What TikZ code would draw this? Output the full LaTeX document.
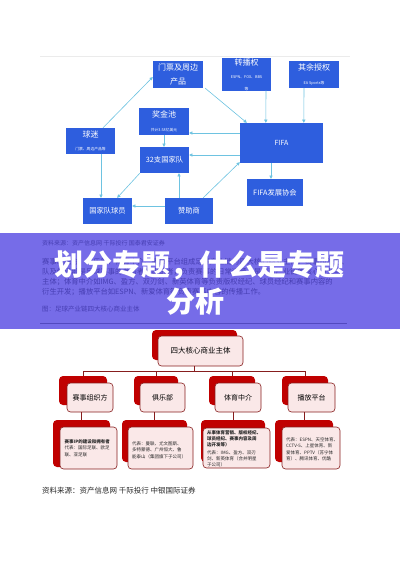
\documentclass[tikz,border=0pt]{standalone}
\usepackage{fontspec}
\setmainfont{Noto Sans CJK SC}
\usetikzlibrary{arrows.meta,calc}
\definecolor{bluebox}{RGB}{46,94,222}
\definecolor{arrowc}{RGB}{110,195,225}
\definecolor{bandc}{RGB}{118,108,232}
\definecolor{bandtxt}{RGB}{58,50,165}
\definecolor{redshadow}{RGB}{192,0,0}
\definecolor{redborder}{RGB}{135,30,30}
\definecolor{pinkfill}{RGB}{250,232,232}
\definecolor{captxt}{RGB}{40,40,40}
\newcommand{\fsz}[1]{\fontsize{#1}{#1}\selectfont}
\begin{document}
\begin{tikzpicture}[x=1pt,y=-1pt,
  bbox/.style={fill=bluebox, text=white, inner sep=0pt, align=center},
  arr/.style={draw=arrowc, line width=0.6pt, -{Triangle[length=3.2pt,width=3.2pt]}},
  sbox/.style={fill=redshadow, rounded corners=4pt, inner sep=0pt},
  fbox/.style={draw=redborder, line width=0.6pt, fill=pinkfill, rounded corners=3.5pt, inner sep=0pt, align=center},
  tline/.style={draw=redborder, line width=0.5pt},
  btxt/.style={text=bandtxt, opacity=0.8, anchor=west, inner sep=0pt}
]
\useasboundingbox (0,0) rectangle (400,565);
\fill[white] (0,0) rectangle (400,565);
\draw[black!8, line width=0.5pt] (40,56) -- (350,56);

% ---- blue network ----
\node[bbox, minimum width=50pt, minimum height=27pt] (men) at (178,74.5)
  {\fsz{8}门票及周边\\[2pt] \fsz{8}产品};
\node[bbox, minimum width=49pt, minimum height=27pt] (zhuan) at (246.5,74.5)
  {\fsz{8}转播权\\[1pt] \fsz{3.8}ESPN、FOX、BBS\\ \fsz{3.8}等};
\node[bbox, minimum width=50pt, minimum height=27pt] (qiyu) at (314,74.5)
  {\fsz{8}其余授权\\[1.5pt] \fsz{3.8}EA Sports等};
\node[bbox, minimum width=50pt, minimum height=27pt] (jiang) at (164,121.5)
  {\fsz{8}奖金池\\[1.5pt] \fsz{3.8}共计3.58亿美元};
\node[bbox, minimum width=83pt, minimum height=40pt] (fifa) at (281.5,143)
  {\fsz{7}FIFA};
\node[bbox, minimum width=49pt, minimum height=26pt] (qiumi) at (90.5,141)
  {\fsz{8}球迷\\[1.5pt] \fsz{3.8}门票、周边产品等};
\node[bbox, minimum width=49pt, minimum height=26pt] (team) at (164.5,160)
  {\fsz{7.3}32支国家队};
\node[bbox, minimum width=56pt, minimum height=27pt] (fdev) at (275,192.5)
  {\fsz{7.3}FIFA发展协会};
\node[bbox, minimum width=49pt, minimum height=26pt] (player) at (107.5,211)
  {\fsz{7.3}国家队球员};
\node[bbox, minimum width=48pt, minimum height=26pt] (sponsor) at (189,211)
  {\fsz{7.3}赞助商};

\draw[arr] ($(qiumi.north)+(12.5,0)$) -- ($(men.west)+(0,2.5)$);
\draw[arr] ($(men.south east)+(2,0)$) -- ($(fifa.north west)+(7,0)$);
\draw[arr] ($(zhuan.south)+(19.5,0)$) -- ($(fifa.north west)+(26,0)$);
\draw[arr] ($(qiyu.south)+(-10,0)$) -- ($(fifa.north west)+(64,0)$);
\draw[arr] ($(fifa.west)+(0,-10)$) -- ($(jiang.east)+(0,11.5)$);
\draw[arr] ($(fifa.west)+(0,12)$) -- ($(team.east)+(0,-5)$);
\draw[arr] (jiang.south) -- (jiang.south |- team.north);
\draw[arr] ($(fifa.south)+(-10.5,0)$) -- ($(fdev.north)+(-4,0)$);
\draw[arr] ($(qiumi.south)+(10.5,0)$) -- ($(player.north)+(-6.5,0)$);
\draw[arr] (team.south west) -- ($(player.north east)+(-15,0)$);
\draw[arr] ($(sponsor.north)+(-10,0)$) -- ($(team.south)+(14.5,0)$);
\draw[arr] ($(sponsor.west)+(0,-5)$) -- ($(player.east)+(0,-5)$);
\draw[arr] ($(sponsor.north east)+(-10,0)$) -- ($(fifa.south west)+(0,-1)$);

% ---- purple band ----
\fill[bandc] (0,233) rectangle (400,329);
\node[btxt, font=\fsz{6}] (src1) at (42,243) {资料来源：资产信息网 千际投行 国泰君安证券};
\node[btxt, font=\fsz{7.3}] (p1) at (42,262) {赛事组织方、俱乐部、体育中介、播放平台组成足球产业链的四大核心商业主体。赛事组织方、};
\node[btxt, font=\fsz{7.3}] (p2) at (42,272) {队及俱乐部是足球赛事的参与者与组织者，负责赛事的日常运营，是足球产业链的核心商业与};
\node[btxt, font=\fsz{7.3}] (p3) at (42,282) {主体；体育中介如IMG、盈方、双刃剑、新英体育等负责版权经纪、球员经纪和赛事内容的};
\node[btxt, font=\fsz{7.3}] (p4) at (42,292) {衍生开发；播放平台如ESPN、新爱体育等负责赛事内容的传播工作。};
\node[btxt, font=\fsz{6.5}] (fig) at (42,309) {图：足球产业链四大核心商业主体};
\draw[bandtxt!60!bandc, line width=0.4pt] (40,323) -- (347,323);
\node[text=white, font=\bfseries\fsz{29}, inner sep=0pt] (title1) at (199,265) {划分专题，什么是专题};
\node[text=white, font=\bfseries\fsz{29}, inner sep=0pt] (title2) at (195,302) {分析};

% ---- red tree ----
\node[sbox, minimum width=85pt, minimum height=30pt] (s0) at (194.5,345) {};
\node[fbox, minimum width=85pt, minimum height=30pt, font=\fsz{7.5}] (f0) at (200.5,351) {四大核心商业主体};

\node[sbox, minimum width=48pt, minimum height=29pt] (s1) at (83,390.5) {};
\node[sbox, minimum width=44pt, minimum height=29pt] (s2) at (156,390.5) {};
\node[sbox, minimum width=46pt, minimum height=29pt] (s3) at (232,390.5) {};
\node[sbox, minimum width=46pt, minimum height=29pt] (s4) at (305,390.5) {};
\node[fbox, minimum width=46pt, minimum height=29pt, font=\fsz{7}] (f1) at (90,397.5) {赛事组织方};
\node[fbox, minimum width=45pt, minimum height=29pt, font=\fsz{7}] (f2) at (162.5,397.5) {俱乐部};
\node[fbox, minimum width=46pt, minimum height=29pt, font=\fsz{7}] (f3) at (238,397.5) {体育中介};
\node[fbox, minimum width=47pt, minimum height=29pt, font=\fsz{7}] (f4) at (311.5,397.5) {播放平台};

\coordinate (bus) at (194.5,371);
\draw[tline] (s0.south |- f0.south) -- (bus);
\draw[tline] (s1.north |- bus) -- (s4.north |- bus);
\draw[tline] (s1.north |- bus) -- (s1.north);
\draw[tline] (s2.north |- bus) -- (s2.north);
\draw[tline] (s3.north |- bus) -- (s3.north);
\draw[tline] (s4.north |- bus) -- (s4.north);

\node[sbox, minimum width=57pt, minimum height=47pt] (t1) at (81.5,443.5) {};
\node[sbox, minimum width=65pt, minimum height=42pt] (t2) at (154.5,441) {};
\node[sbox, minimum width=64pt, minimum height=42pt] (t3) at (233,441) {};
\node[sbox, minimum width=58pt, minimum height=42pt] (t4) at (304,441) {};
\draw[tline] (t1.north |- f1.south) -- (t1.north);
\draw[tline] (t2.north |- f2.south) -- (t2.north);
\draw[tline] (t3.north |- f3.south) -- (t3.north);
\draw[tline] (t4.north |- f4.south) -- (t4.north);

\node[fbox, minimum width=57pt, minimum height=42pt] (g1) at (88.5,448) {};
\node[fbox, minimum width=65pt, minimum height=42pt] (g2) at (160.5,448) {};
\node[fbox, minimum width=67pt, minimum height=40pt] (g3) at (236.5,448) {};
\node[fbox, minimum width=58pt, minimum height=42pt] (g4) at (311,448) {};

\node[anchor=north west, align=left, inner sep=0pt, font=\fsz{4.5}, text=black!85] (x1) at (64.5,439)
  {\bfseries 赛事IP的建设和拥有者\\[2.2pt] 代表：国际足联、欧足\\[2.2pt] 联、亚足联};
\node[anchor=north west, align=left, inner sep=0pt, font=\fsz{4.5}, text=black!85] (x2) at (132,441)
  {代表：曼联、尤文图斯、\\[2.2pt] 多特蒙德、广州恒大、鲁\\[2.2pt] 能泰山（集团旗下子公司）};
\node[anchor=north west, align=left, inner sep=0pt, font=\fsz{4.5}, text=black!85] (x3) at (207,430)
  {\bfseries 从事体育营销、版权经纪、\\[1.8pt] \bfseries 球员经纪、赛事内容及周\\[1.8pt] \bfseries 边开发等）\\[3pt] 代表：IMG、盈方、双刃\\[1.8pt] 剑、新英体育（合并明星\\[1.8pt] 子公司）};
\node[anchor=north west, align=left, inner sep=0pt, font=\fsz{4.5}, text=black!85] (x4) at (286,437)
  {代表：ESPN、天空体育、\\[2pt] CCTV-5、上星体育、新\\[2pt] 爱体育、PPTV（苏宁体\\[2pt] 育）、腾讯体育、优酷};

\node[anchor=west, inner sep=0pt, font=\fsz{7.5}, text=captxt] (src2) at (42,491) {资料来源：资产信息网 千际投行 中银国际证券};
\end{tikzpicture}
\end{document}
